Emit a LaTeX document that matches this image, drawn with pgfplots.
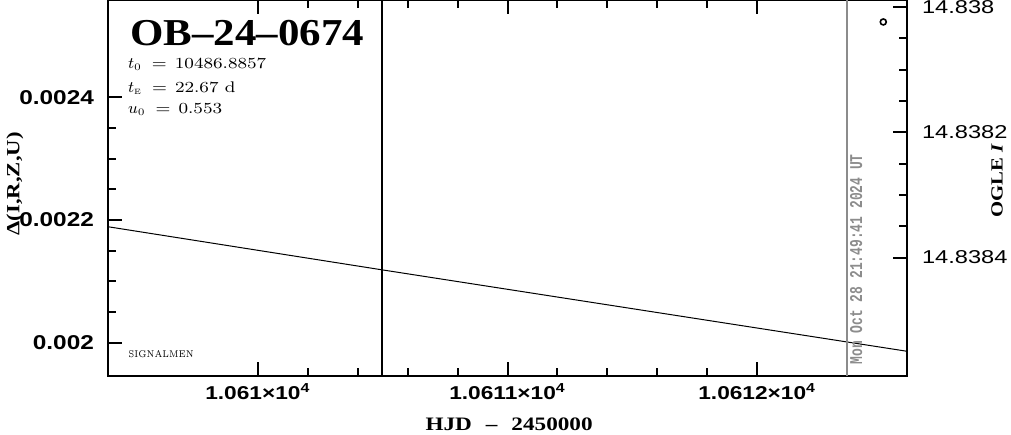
\documentclass[border=0pt]{standalone}
\usepackage{fontspec}
\usepackage{pgfplots}
\pgfplotsset{compat=1.18}
\newfontfamily\lsansw[FakeStretch=1.22]{Liberation Sans}
\newfontfamily\lsansr[FakeStretch=1.27]{Liberation Sans}
\newfontfamily\lserifw[FakeStretch=1.22]{Liberation Serif}
\newfontfamily\ltitle[FakeStretch=1.13]{Liberation Serif}
\newfontfamily\lmonon[FakeStretch=0.72]{Liberation Mono}
\newfontfamily\lmw[FakeStretch=1.17]{Latin Modern Roman}
\newfontfamily\lmn[FakeStretch=0.82]{Latin Modern Roman}
\definecolor{stampgray}{RGB}{140,140,140}
\begin{document}
\begin{tikzpicture}
\pgfplotsset{
  common/.style={
    scale only axis, width=399.5pt, height=188pt,
    at={(0,0)}, anchor=south west,
    xmin=10609.4, xmax=10612.6,
    major tick length=7pt, minor tick length=4pt,
    every tick/.style={black, line width=1pt},
    axis line style={line width=1.3pt},
    scaled ticks=false, clip=false,
  }
}
\begin{axis}[common,
  ymin=0.001946, ymax=0.0025586,
  xtick={10610,10611,10612},
  xticklabels={1.061×10\textsuperscript{4}, 1.0611×10\textsuperscript{4}, 1.0612×10\textsuperscript{4}},
  minor x tick num=4,
  ytick={0.002,0.0022,0.0024},
  yticklabels={0.002,0.0022,0.0024},
  minor y tick num=3,
  xtick pos=both, ytick pos=left,
  tick align=inside,
  xticklabel style={font=\lsansw\bfseries\fontsize{9.3}{11}\selectfont},
  yticklabel style={font=\lsansw\bfseries\fontsize{10}{12}\selectfont, xshift=-3.5pt},
]
\addplot[black, line width=0.5pt] coordinates {(10609.4,0.0021892) (10610.497,0.0021190) (10612.6,0.0019863)};
\addplot[black, line width=1.3pt] coordinates {(10610.497,0.001946) (10610.497,0.0025586)};
\addplot[stampgray, line width=0.6pt] coordinates {(10612.36,0.001946) (10612.36,0.0025586)};
\node[anchor=base west, inner sep=0, font=\ltitle\bfseries\fontsize{19}{22}\selectfont] at (rel axis cs:0.0275,0.880) {OB–24–0674};
\node[anchor=base west, inner sep=0, font=\lmw\fontsize{7.7}{9}\selectfont] at (rel axis cs:0.0246,0.819) {$t_{\scriptscriptstyle 0}$\hspace{5pt}=\hspace{4pt}10486.8857};
\node[anchor=base west, inner sep=0, font=\lmw\fontsize{7.7}{9}\selectfont] at (rel axis cs:0.0246,0.755) {$t_{\scriptscriptstyle\rm E}$\hspace{5pt}=\hspace{4pt}22.67 d};
\node[anchor=base west, inner sep=0, font=\lmw\fontsize{7.7}{9}\selectfont] at (rel axis cs:0.0246,0.699) {$u_{\scriptscriptstyle 0}$\hspace{5pt}=\hspace{4pt}0.553};
\node[anchor=base west, inner sep=0, font=\lmn\fontsize{4.9}{6}\selectfont] at (rel axis cs:0.025,0.048) {SIGNALMEN};
\node[rotate=90, anchor=north west, inner sep=0, text=stampgray, font=\lmonon\bfseries\fontsize{9}{10}\selectfont] at (axis cs:10612.37,0.0019645) {Mon Oct 28 21:49:41 2024 UT};
\node[anchor=center, font=\lserifw\bfseries\fontsize{9.5}{11}\selectfont] at (rel axis cs:0.502,-0.128) {HJD\hspace{7pt}–\hspace{7pt}2450000};
\node[rotate=90, anchor=center, font=\lserifw\bfseries\fontsize{9.3}{11}\selectfont] at (rel axis cs:-0.1164,0.511) {Δ(I,R,Z,U)};
\node[rotate=90, anchor=center, font=\lserifw\bfseries\fontsize{8.5}{10}\selectfont] at (rel axis cs:1.1126,0.519) {OGLE \itshape I};
\end{axis}
\begin{axis}[common,
  hide x axis, axis y line*=right,
  ymin=14.837989, ymax=14.838589, y dir=reverse,
  ytick={14.838,14.8382,14.8384},
  yticklabels={\raisebox{-1.3pt}{14.838},14.8382,14.8384},
  minor y tick num=3,
  tick align=inside,
  yticklabel style={font=\lsansr\fontsize{9.3}{11}\selectfont, xshift=4pt},
]
\addplot[only marks, mark=o, mark size=1.5pt, line width=0.8pt] coordinates {(10612.505,14.838024)};
\end{axis}
\pgfresetboundingbox
\useasboundingbox (-54pt,-29pt) rectangle (451.5pt,188pt);
\end{tikzpicture}
\end{document}
